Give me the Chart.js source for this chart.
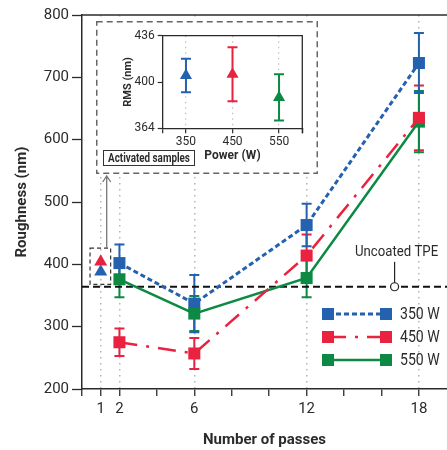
<!DOCTYPE html>
<html>
<head>
<meta charset="utf-8">
<script src="https://cdn.jsdelivr.net/npm/chart.js@4.4.1/dist/chart.umd.min.js"></script>
<style>
  html, body { margin: 0; padding: 0; background: #fff; }
  #wrap { position: relative; width: 447px; height: 450px; }
  #main { position: absolute; left: 0; top: 0; }
  #inset { position: absolute; left: 96px; top: 21px; }
</style>
</head>
<body>
<div id="wrap">
  <canvas id="main" width="447" height="450"></canvas>
  <canvas id="inset" width="222" height="153"></canvas>
</div>
<script>
// données
var passes = [2, 6, 12, 18];
var rough350 = [402, 337, 463, 723];
var err350 = [30, 46, 34, 48];
var rough450 = [275, 257, 414, 635];
var err450 = [22, 25, 34, 52];
var rough550 = [376, 321, 378, 629];
var err550 = [29, 28, 31, 49];
var activatedPass = 1;
var activated350 = 388;
var activated450 = 404;
var uncoatedTPE = 364;
var xTickValues = [0, 1, 2, 4, 6, 8, 10, 12, 14, 16, 18];
var xLabelled = [1, 2, 6, 12, 18];
var yTickValues = [200, 300, 400, 500, 600, 700, 800];
var seriesNames = ['350 W', '450 W', '550 W'];

// encart
var powers = [350, 450, 550];
var rms = [405, 406, 388];
var rmsErr = [13, 21, 18];
var powerTicks = [300, 350, 450, 550, 600];
var rmsTicks = [364, 400, 436];

var FONT = 'Roboto, "Liberation Sans", sans-serif';
var BLUE = '#2461ae';
var RED = '#e8223f';
var GREEN = '#0c8a43';
var INK = '#2b2b2b';

function toPoints(xs, ys) {
    return xs.map(function (x, i) { return { x: x, y: ys[i] }; });
}

// texte un peu resserré (la figure d'origine utilise une police condensée)
function narrowText(ctx, text, x, y, align, squeeze) {
    ctx.save();
    ctx.translate(x, y);
    ctx.scale(squeeze, 1);
    ctx.textAlign = align;
    ctx.textBaseline = 'middle';
    ctx.fillText(text, 0, 0);
    ctx.restore();
}

function series(label, values, errors, color, dash, width, order) {
    return {
        label: label,
        data: toPoints(passes, values),
        errors: errors,
        borderColor: color,
        backgroundColor: color,
        borderWidth: width,
        borderDash: dash,
        pointStyle: 'rect',
        pointRadius: 8.5,
        pointHoverRadius: 8.5,
        pointBorderWidth: 0,
        order: order
    };
}

// barres d'erreur dessinées avec les échelles du graphique
var errorBars = {
    id: 'errorBars',
    beforeDatasetsDraw: function (chart) {
        var ctx = chart.ctx, xs = chart.scales.x, ys = chart.scales.y;
        chart.data.datasets.forEach(function (ds) {
            if (!ds.errors) return;
            ctx.save();
            ctx.lineWidth = 2;
            ds.data.forEach(function (pt, i) {
                var col = Array.isArray(ds.backgroundColor) ? ds.backgroundColor[i] : ds.backgroundColor;
                var x = xs.getPixelForValue(pt.x);
                var yTop = ys.getPixelForValue(pt.y + ds.errors[i]);
                var yBot = ys.getPixelForValue(pt.y - ds.errors[i]);
                ctx.strokeStyle = col;
                ctx.beginPath();
                ctx.moveTo(x, yTop); ctx.lineTo(x, yBot);
                ctx.moveTo(x - 5, yTop); ctx.lineTo(x + 5, yTop);
                ctx.moveTo(x - 5, yBot); ctx.lineTo(x + 5, yBot);
                ctx.stroke();
            });
            ctx.restore();
        });
    }
};

var mainDecor = {
    id: 'mainDecor',
    beforeDatasetsDraw: function (chart) {
        var ctx = chart.ctx, a = chart.chartArea, ys = chart.scales.y;
        ctx.save();
        // cadre du haut
        ctx.strokeStyle = INK;
        ctx.lineWidth = 1.5;
        ctx.beginPath();
        ctx.moveTo(a.left, a.top); ctx.lineTo(a.right, a.top);
        ctx.stroke();
        // ligne TPE non revêtu
        var yT = ys.getPixelForValue(uncoatedTPE);
        ctx.strokeStyle = '#111';
        ctx.lineWidth = 1.8;
        ctx.setLineDash([7, 4]);
        ctx.beginPath();
        ctx.moveTo(a.left, yT); ctx.lineTo(a.right, yT);
        ctx.stroke();
        ctx.restore();
    },
    afterDatasetsDraw: function (chart) {
        var ctx = chart.ctx, xs = chart.scales.x, ys = chart.scales.y;
        ctx.save();
        // petit cadre pointillé autour des échantillons activés
        var bx1 = xs.getPixelForValue(0.43), bx2 = xs.getPixelForValue(1.53);
        var by1 = ys.getPixelForValue(426), by2 = ys.getPixelForValue(368);
        ctx.strokeStyle = '#333';
        ctx.lineWidth = 1.2;
        ctx.setLineDash([4, 3]);
        ctx.strokeRect(bx1, by1, bx2 - bx1, by2 - by1);
        ctx.setLineDash([]);
        // flèche vers l'encart
        var ax = xs.getPixelForValue(1.32);
        ctx.strokeStyle = '#777';
        ctx.lineWidth = 1.3;
        ctx.beginPath();
        ctx.moveTo(ax, by1); ctx.lineTo(ax, 176);
        ctx.moveTo(ax - 4, 182); ctx.lineTo(ax, 176); ctx.lineTo(ax + 4, 182);
        ctx.stroke();
        // annotation "Uncoated TPE"
        var cx = xs.getPixelForValue(16.7), cy = ys.getPixelForValue(uncoatedTPE);
        ctx.strokeStyle = '#222';
        ctx.lineWidth = 1.2;
        ctx.beginPath();
        ctx.moveTo(cx, cy - 4); ctx.lineTo(cx, ys.getPixelForValue(404));
        ctx.stroke();
        ctx.fillStyle = '#fff';
        ctx.beginPath();
        ctx.arc(cx, cy, 4, 0, Math.PI * 2);
        ctx.fill(); ctx.stroke();
        ctx.fillStyle = INK;
        ctx.font = '15px ' + FONT;
        narrowText(ctx, 'Uncoated TPE', cx + 2, ys.getPixelForValue(420), 'center', 0.88);
        // légende
        var rows = [
            { name: seriesNames[0], color: BLUE, dash: [5, 3], w: 3 },
            { name: seriesNames[1], color: RED, dash: [18, 9, 3, 9], w: 2.5 },
            { name: seriesNames[2], color: GREEN, dash: [], w: 2.5 }
        ];
        var lx1 = 328, lx2 = 386, ly = 314, step = 23;
        rows.forEach(function (r, i) {
            var y = ly + i * step;
            ctx.strokeStyle = r.color;
            ctx.lineWidth = r.w;
            ctx.setLineDash(r.dash);
            ctx.beginPath();
            ctx.moveTo(lx1, y); ctx.lineTo(lx2, y);
            ctx.stroke();
            ctx.setLineDash([]);
            ctx.fillStyle = r.color;
            ctx.fillRect(lx1 - 6, y - 6, 12, 12);
            ctx.fillRect(lx2 - 6, y - 6, 12, 12);
            ctx.fillStyle = INK;
            ctx.font = '16px ' + FONT;
            narrowText(ctx, r.name, 400, y + 1, 'left', 0.88);
        });
        ctx.restore();
    }
};

new Chart(document.getElementById('main'), {
    type: 'line',
    data: {
        datasets: [
            series(seriesNames[1], rough450, err450, RED, [18, 9, 3, 9], 2.5, 1),
            series(seriesNames[2], rough550, err550, GREEN, [], 2.5, 2),
            series(seriesNames[0], rough350, err350, BLUE, [5, 3], 3, 3),
            {
                label: 'act450',
                data: [{ x: activatedPass, y: activated450 }],
                showLine: false,
                pointStyle: 'triangle',
                pointRadius: 7.5,
                pointBorderWidth: 0,
                backgroundColor: RED,
                borderColor: RED,
                order: 0
            },
            {
                label: 'act350',
                data: [{ x: activatedPass, y: activated350 }],
                showLine: false,
                pointStyle: 'triangle',
                pointRadius: 7.5,
                pointBorderWidth: 0,
                backgroundColor: BLUE,
                borderColor: BLUE,
                order: 0
            }
        ]
    },
    options: {
        responsive: false,
        animation: false,
        events: [],
        layout: { padding: { top: 15, right: 0, left: 0, bottom: 0 }, autoPadding: false },
        plugins: { legend: { display: false }, tooltip: { enabled: false } },
        scales: {
            x: {
                type: 'linear',
                min: 0,
                max: 19.5,
                afterBuildTicks: function (s) { s.ticks = xTickValues.map(function (v) { return { value: v }; }); },
                afterFit: function (s) { s.height = 61; },
                ticks: {
                    autoSkip: false,
                    maxRotation: 0,
                    padding: 4,
                    color: INK,
                    font: { family: FONT, size: 15 },
                    callback: function (v) { return xLabelled.indexOf(v) >= 0 ? String(v) : ''; }
                },
                grid: {
                    color: function (c) { return c.tick && xLabelled.indexOf(c.tick.value) >= 0 ? '#b5b5b5' : 'rgba(0,0,0,0)'; },
                    lineWidth: 1.5,
                    tickColor: INK,
                    tickLength: 7,
                    tickWidth: 1.3
                },
                border: { color: INK, width: 1.5, dash: [1.5, 4.5] },
                title: {
                    display: true,
                    text: 'Number of passes',
                    color: INK,
                    font: { family: FONT, size: 15, weight: 'bold' },
                    padding: { top: 0, bottom: 1 }
                }
            },
            y: {
                min: 200,
                max: 800,
                afterBuildTicks: function (s) { s.ticks = yTickValues.map(function (v) { return { value: v }; }); },
                afterFit: function (s) { s.width = 82; },
                ticks: { padding: 3, color: INK, font: { family: FONT, size: 15 } },
                grid: { drawOnChartArea: false, tickColor: INK, tickLength: 10, tickWidth: 1.3 },
                border: { color: INK, width: 1.5 },
                title: {
                    display: true,
                    text: 'Roughness (nm)',
                    color: INK,
                    font: { family: FONT, size: 15, weight: 'bold' },
                    padding: { top: 13, bottom: 0 }
                }
            }
        }
    },
    plugins: [errorBars, mainDecor]
});

// encart : RMS des échantillons activés
var insetDecor = {
    id: 'insetDecor',
    beforeDraw: function (chart) {
        var ctx = chart.ctx;
        ctx.save();
        ctx.fillStyle = '#fff';
        ctx.fillRect(0, 0, chart.width, chart.height);
        ctx.restore();
    },
    afterDraw: function (chart) {
        var ctx = chart.ctx, a = chart.chartArea;
        ctx.save();
        ctx.strokeStyle = INK;
        ctx.lineWidth = 1.3;
        ctx.beginPath();
        ctx.moveTo(a.left, a.top); ctx.lineTo(a.right, a.top); ctx.lineTo(a.right, a.bottom + 5);
        ctx.stroke();
        // cadre pointillé
        ctx.strokeStyle = '#666';
        ctx.lineWidth = 1.5;
        ctx.setLineDash([6, 4]);
        ctx.strokeRect(0.75, 0.75, chart.width - 1.5, chart.height - 1.5);
        ctx.setLineDash([]);
        // étiquette
        ctx.strokeStyle = '#333';
        ctx.lineWidth = 1;
        ctx.strokeRect(7.5, 129.5, 91, 15);
        ctx.fillStyle = INK;
        ctx.font = 'bold 12px ' + FONT;
        narrowText(ctx, 'Activated samples', 53, 137.5, 'center', 0.82);
        ctx.restore();
    }
};

new Chart(document.getElementById('inset'), {
    type: 'line',
    data: {
        datasets: [{
            label: 'RMS',
            data: toPoints(powers, rms),
            errors: rmsErr,
            showLine: false,
            pointStyle: 'triangle',
            pointRadius: 7,
            pointBorderWidth: 0,
            backgroundColor: [BLUE, RED, GREEN],
            borderColor: [BLUE, RED, GREEN]
        }]
    },
    options: {
        responsive: false,
        animation: false,
        events: [],
        layout: { padding: { top: 14.7, right: 15.7, left: 0, bottom: 0 }, autoPadding: false },
        plugins: { legend: { display: false }, tooltip: { enabled: false } },
        scales: {
            x: {
                type: 'linear',
                min: 300,
                max: 600,
                afterBuildTicks: function (s) { s.ticks = powerTicks.map(function (v) { return { value: v }; }); },
                afterFit: function (s) { s.height = 45.7; },
                ticks: {
                    autoSkip: false,
                    maxRotation: 0,
                    padding: 1,
                    color: INK,
                    font: { family: FONT, size: 12 },
                    callback: function (v) { return powers.indexOf(v) >= 0 ? String(v) : ''; }
                },
                grid: {
                    color: function (c) { return c.tick && powers.indexOf(c.tick.value) >= 0 ? '#c4c4c4' : 'rgba(0,0,0,0)'; },
                    lineWidth: 1.3,
                    tickColor: INK,
                    tickLength: 5,
                    tickWidth: 1.2
                },
                border: { color: INK, width: 1.3, dash: [1.5, 4] },
                title: {
                    display: true,
                    text: 'Power (W)',
                    color: INK,
                    font: { family: FONT, size: 12, weight: 'bold' },
                    padding: { top: 0, bottom: 10.5 }
                }
            },
            y: {
                min: 364,
                max: 436,
                afterBuildTicks: function (s) { s.ticks = rmsTicks.map(function (v) { return { value: v }; }); },
                afterFit: function (s) { s.width = 66.7; },
                ticks: { padding: 3, color: INK, font: { family: FONT, size: 12 } },
                grid: { drawOnChartArea: false, tickColor: INK, tickLength: 5, tickWidth: 1.2 },
                border: { color: INK, width: 1.3 },
                title: {
                    display: true,
                    text: 'RMS (nm)',
                    color: INK,
                    font: { family: FONT, size: 11, weight: 'bold' },
                    padding: { top: 26, bottom: 0 }
                }
            }
        }
    },
    plugins: [errorBars, insetDecor]
});
</script>
</body>
</html>
